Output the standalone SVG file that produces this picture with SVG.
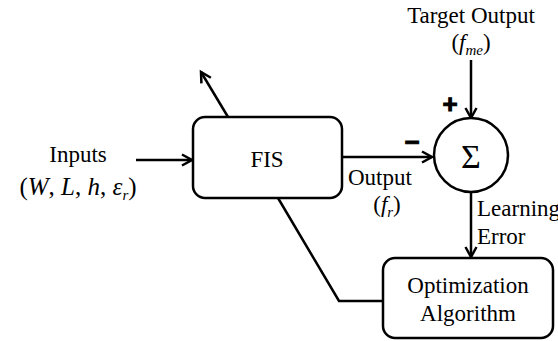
<svg xmlns="http://www.w3.org/2000/svg" width="558" height="341" viewBox="0 0 558 341">
<style>
text { font-family: "Liberation Serif", "Times New Roman", serif; font-size: 23px; fill: #000; }
.i { font-style: italic; }
.big { font-size: 25px; }
.sub { font-size: 15px; font-style: italic; }
.box { fill: #fff; stroke: #000; stroke-width: 2.5; }
.ln { fill: none; stroke: #000; stroke-width: 2.5; }
.sign { font-family: "Liberation Sans", Arial, sans-serif; font-weight: bold; font-size: 26px; stroke: #000; stroke-width: 1; }
</style>
<defs>
<marker id="ah" markerUnits="userSpaceOnUse" markerWidth="14" markerHeight="14" viewBox="0 0 14 14" refX="11" refY="7" orient="auto">
<path d="M1,1.5 L11,7 L1,12.5" fill="none" stroke="#000" stroke-width="2.5"/>
</marker>
</defs>
<rect width="558" height="341" fill="#fff"/>
<g id="connectors">
<line class="ln" x1="136" y1="160" x2="192" y2="160" marker-end="url(#ah)"/>
<line class="ln" x1="228" y1="117" x2="201" y2="72" marker-end="url(#ah)"/>
<line class="ln" x1="342" y1="157" x2="432" y2="157" marker-end="url(#ah)"/>
<line class="ln" x1="471" y1="60" x2="471" y2="118" marker-end="url(#ah)"/>
<line class="ln" x1="471" y1="192" x2="471" y2="257" marker-end="url(#ah)"/>
<polyline class="ln" points="278,198 339,301 383,301"/>
</g>
<g id="fis">
<rect class="box" x="193" y="117" width="149" height="81" rx="12"/>
<text x="267" y="167" text-anchor="middle">FIS</text>
</g>
<g id="sum">
<circle class="box" cx="471" cy="155" r="37"/>
<text x="471" y="168" text-anchor="middle" style="font-size:34px">Σ</text>
<text class="sign" x="450" y="113" text-anchor="middle">+</text>
<text class="sign" x="412" y="151" text-anchor="middle">−</text>
</g>
<g id="opt">
<rect class="box" x="383" y="258" width="170" height="80" rx="12"/>
<text x="468" y="293" text-anchor="middle">Optimization</text>
<text x="468" y="321" text-anchor="middle">Algorithm</text>
</g>
<g id="inputs">
<text x="78" y="162" text-anchor="middle">Inputs</text>
<text class="big" x="78" y="195" text-anchor="middle">(<tspan class="i">W</tspan>, <tspan class="i">L</tspan>, <tspan class="i">h</tspan>, <tspan class="i">ε</tspan><tspan class="sub" dy="5">r</tspan><tspan dy="-5">)</tspan></text>
</g>
<g id="target">
<text x="471" y="23" text-anchor="middle">Target Output</text>
<text x="471" y="50" text-anchor="middle">(<tspan class="i">f</tspan><tspan class="sub" dy="5">me</tspan><tspan dy="-5">)</tspan></text>
</g>
<g id="output-label">
<text x="348" y="185">Output</text>
<text x="387" y="212" text-anchor="middle">(<tspan class="i">f</tspan><tspan class="sub" dy="5">r</tspan><tspan dy="-5">)</tspan></text>
</g>
<g id="error-label">
<text x="477" y="216">Learning</text>
<text x="477" y="244">Error</text>
</g>
</svg>
